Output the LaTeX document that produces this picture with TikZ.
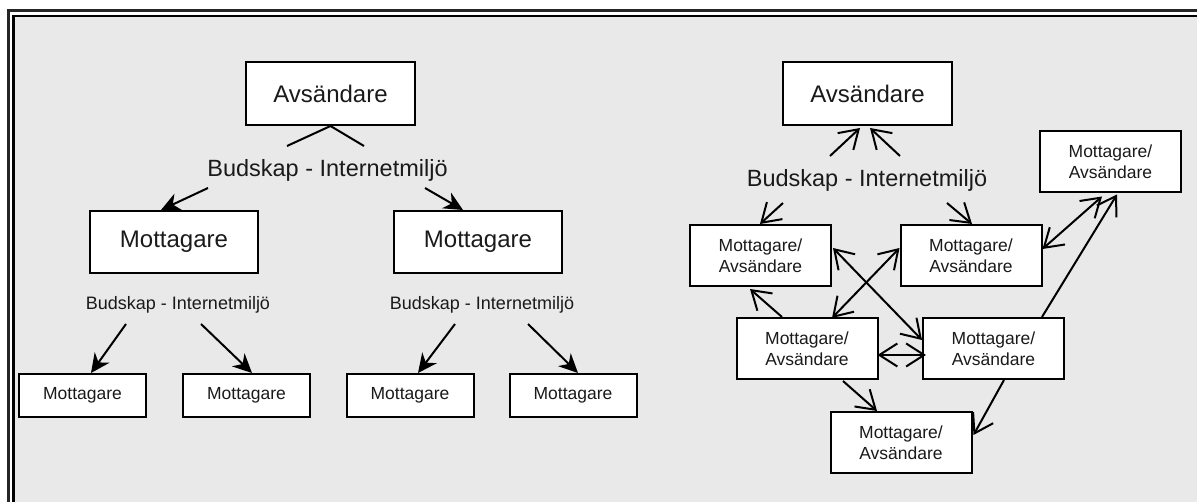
\documentclass[tikz,border=0pt]{standalone}
\usepackage{fontspec}
\setmainfont{Liberation Sans}
\usetikzlibrary{arrows.meta,calc}
\definecolor{panel}{HTML}{E9E9E9}
\definecolor{ink}{HTML}{1A1A1A}
\begin{document}
\begin{tikzpicture}[x=1pt,y=-1pt,
  box/.style={draw=black, line width=2pt, fill=white, inner sep=0pt, align=center, text=ink},
  bigbox/.style={box, minimum width=169pt, minimum height=63pt, font=\fontsize{24}{28}\selectfont},
  midbox/.style={box, minimum width=168pt, minimum height=62pt, font=\fontsize{24}{28}\selectfont},
  smallbox/.style={box, minimum width=127pt, minimum height=43pt, font=\fontsize{17.5}{21}\selectfont},
  netbox/.style={box, minimum width=141pt, minimum height=61pt, font=\fontsize{17.5}{21}\selectfont},
  bigtext/.style={inner sep=0pt, text=ink, font=\fontsize{23.5}{28}\selectfont},
  smalltext/.style={inner sep=0pt, text=ink, font=\fontsize{18}{22}\selectfont},
  plain/.style={line width=2pt},
  filled/.style={line width=2pt, -{Stealth[length=19pt,width=18pt,inset=6pt]}},
  barb/.style={line width=2pt, -{Straight Barb[length=18pt,width=23pt]}},
  dbarb/.style={line width=2pt, {Straight Barb[length=18pt,width=23pt]}-{Straight Barb[length=18pt,width=23pt]}}
]
\useasboundingbox (0,0) rectangle (1197,502);
\clip (0,0) rectangle (1197,502);
\fill[white] (0,0) rectangle (1197,502);

% double frame around the grey panel
\fill[panel] (13.5,16) rectangle (1220,520);
\draw[line width=3pt, black!85] (8.5,11) rectangle (1215,515);
\draw[line width=2.5pt, black] (13.5,16) rectangle (1220,520);

% ---------------- hierarchical tree ----------------
\node[bigbox] (lavs) at (330.5,93.5) {Avsändare};
\node[bigtext] (lmsg) at (327.5,170) {Budskap - Internetmiljö};
\node[midbox] (lm1) at (174,242) {Mottagare};
\node[midbox] (lm2) at (478,242) {Mottagare};
\node[smalltext] (s1) at (178,305) {Budskap - Internetmiljö};
\node[smalltext] (s2) at (482,305) {Budskap - Internetmiljö};
\node[smallbox] (b1) at (82.5,395.5) {Mottagare};
\node[smallbox] (b2) at (246.5,395.5) {Mottagare};
\node[smallbox] (b3) at (410,395.5) {Mottagare};
\node[smallbox] (b4) at (573,395.5) {Mottagare};

\coordinate (fork1) at (287,146);
\coordinate (fork2) at (364,146);
\draw[plain] (fork1) -- (lavs.south) -- (fork2);

\coordinate (m1) at (208,188);
\coordinate (m2) at (425,188);
\draw[filled] (m1) -- ([xshift=-13pt]lm1.north);
\draw[filled] (m2) -- ([xshift=-15pt]lm2.north);

\coordinate (s1a) at (126,324);
\coordinate (s1b) at (201,324);
\coordinate (s2a) at (455,324);
\coordinate (s2b) at (528,324);
\draw[filled] (s1a) -- ([xshift=8.5pt]b1.north);
\draw[filled] (s1b) -- ([xshift=5.5pt]b2.north);
\draw[filled] (s2a) -- ([xshift=8pt]b3.north);
\draw[filled] (s2b) -- ([xshift=5pt]b4.north);

% ---------------- network of senders/receivers ----------------
\node[bigbox] (ravs) at (867.5,93.5) {Avsändare};
\node[bigtext] (rmsg) at (867,180) {Budskap - Internetmiljö};
\node[netbox] (na) at (760.5,255.5) {Mottagare/\\Avsändare};
\node[netbox] (nb) at (971,255.5) {Mottagare/\\Avsändare};
\node[netbox] (nc) at (1110.5,162) {Mottagare/\\Avsändare};
\node[netbox] (nd) at (807,348.5) {Mottagare/\\Avsändare};
\node[netbox] (ne) at (993.5,348.5) {Mottagare/\\Avsändare};
\node[netbox] (nf) at (901,442.5) {Mottagare/\\Avsändare};

\coordinate (u1) at (830,156);
\coordinate (u2) at (900,156);
\draw[barb] (u1) -- ($(ravs.south)+(-7.5,2)$);
\draw[barb] (u2) -- ($(ravs.south)+(2.5,2)$);

\coordinate (d1) at (783,203);
\coordinate (d2) at (947,203);
\draw[barb] (d1) -- ([xshift=-0.5pt]na.north);
\draw[barb] (d2) -- ([xshift=1pt]nb.north);

\draw[barb] ($(nd.north)+(-25,0)$) -- ($(na.south)+(-10.5,2)$);
\draw[dbarb] ($(na.east)+(1,-7.5)$) -- ($(ne.west)+(0,-8.5)$);
\draw[dbarb] ($(nd.north)+(25,1)$) -- ($(nb.west)+(0,-7.5)$);
\draw[dbarb] ($(nd.east)+(-1,6.5)$) -- ($(ne.west)+(4,6.5)$);
\draw[barb] ($(nd.south)+(36,1)$) -- ($(nf.north)+(-24,0)$);
\draw[barb] ($(ne.south)+(10.5,0)$) -- ($(nf.east)+(1,-7.5)$);
\draw[dbarb] ($(nb.east)+(0,-6.5)$) -- ($(nc.south)+(-8.5,3)$);
\draw[barb] ($(ne.north)+(48.5,0)$) -- ($(nc.south)+(6.5,1)$);
\end{tikzpicture}
\end{document}
